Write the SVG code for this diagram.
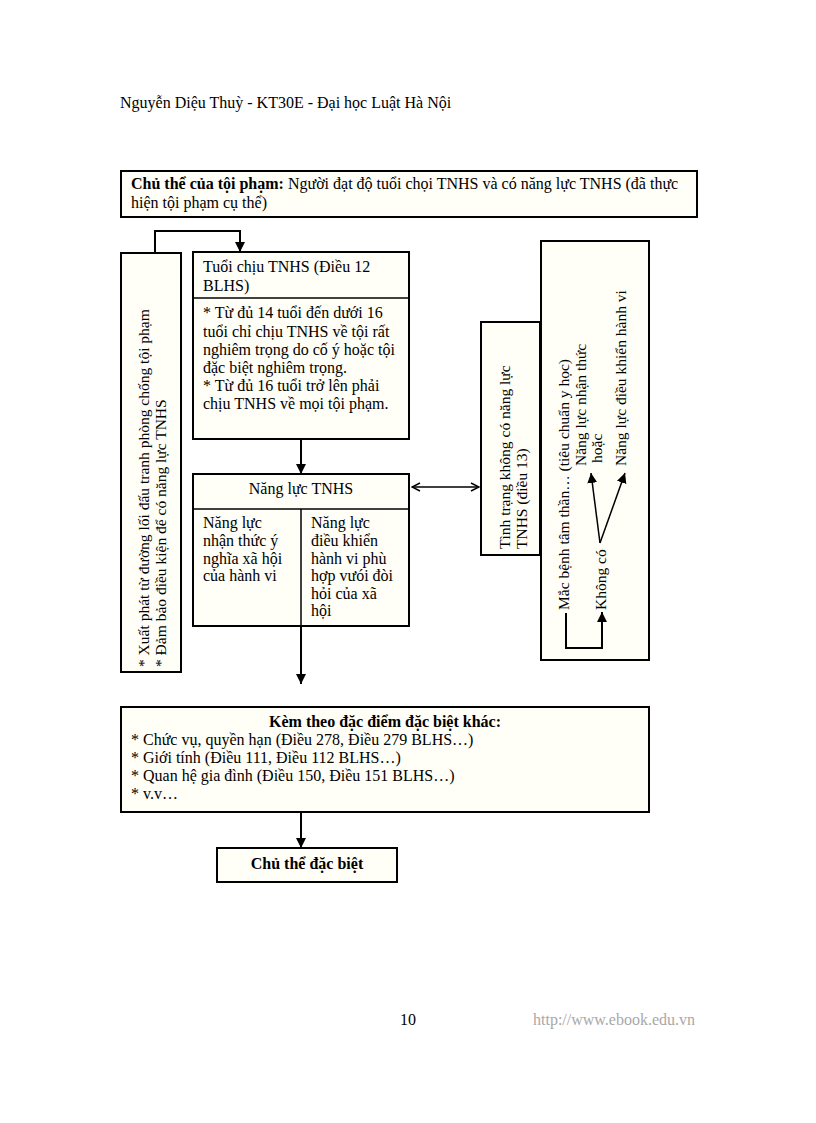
<svg xmlns="http://www.w3.org/2000/svg" width="816" height="1123" viewBox="0 0 816 1123">
<defs>
<style>
text{font-family:"Liberation Serif","Times New Roman",serif;font-size:16px;fill:#000}
.b{font-weight:bold}
.r{font-size:15.5px}
.box{fill:#fffef7;stroke:#000;stroke-width:2}
.ln{fill:none;stroke:#000;stroke-width:2}
.thin{fill:none;stroke:#000;stroke-width:1.5}
</style>
<marker id="ah" viewBox="0 0 10 10" refX="10" refY="5" markerWidth="10" markerHeight="10" markerUnits="userSpaceOnUse" orient="auto">
<path d="M0,0 L10,5 L0,10 z" fill="#000"/>
</marker>
<marker id="oa" viewBox="0 0 10 10" refX="9" refY="5" markerWidth="10" markerHeight="10" markerUnits="userSpaceOnUse" orient="auto-start-reverse">
<path d="M1,1 L9,5 L1,9" fill="none" stroke="#000" stroke-width="1.5"/>
</marker>
</defs>
<rect width="816" height="1123" fill="#fff"/>

<g id="header">
<text x="120" y="108">Nguyễn Diệu Thuỳ - KT30E - Đại học Luật Hà Nội</text>
</g>

<g id="chu-the">
<rect class="box" x="121" y="171" width="576" height="46" stroke-width="2.5"/>
<text x="131" y="189"><tspan class="b">Chủ thể của tội phạm:</tspan> Người đạt độ tuổi chọi TNHS và có năng lực TNHS (đã thực</text>
<text x="131" y="208">hiện tội phạm cụ thể)</text>
</g>

<g id="left-note">
<rect class="box" x="121" y="253" width="60" height="419"/>
<text class="r" transform="translate(149,667) rotate(-90)">* Xuất phát từ đường lối đấu tranh phòng chống tội phạm</text>
<text class="r" transform="translate(166,667) rotate(-90)">* Đảm bảo điều kiện để có năng lực TNHS</text>
</g>

<g id="tuoi">
<rect class="box" x="193" y="252" width="216" height="187"/>
<line class="thin" x1="193" y1="298" x2="409" y2="298"/>
<text x="203" y="272">Tuổi chịu TNHS (Điều 12</text>
<text x="203" y="291">BLHS)</text>
<text x="203" y="318">* Từ đủ 14 tuổi đến dưới 16</text>
<text x="203" y="337">tuổi chỉ chịu TNHS về tội rất</text>
<text x="203" y="355">nghiêm trọng do cố ý hoặc tội</text>
<text x="203" y="373">đặc biệt nghiêm trọng.</text>
<text x="203" y="391">* Từ đủ 16 tuổi trở lên phải</text>
<text x="203" y="409">chịu TNHS về mọi tội phạm.</text>
</g>

<g id="nang-luc">
<rect class="box" x="193" y="474" width="216" height="152"/>
<line class="thin" x1="193" y1="509" x2="409" y2="509"/>
<line class="thin" x1="301" y1="509" x2="301" y2="626"/>
<text x="301" y="494" text-anchor="middle">Năng lực TNHS</text>
<text x="203" y="528">Năng lực</text>
<text x="203" y="546">nhận thức ý</text>
<text x="203" y="564">nghĩa xã hội</text>
<text x="203" y="581">của hành vi</text>
<text x="311" y="528">Năng lực</text>
<text x="311" y="546">điều khiển</text>
<text x="311" y="564">hành vi phù</text>
<text x="311" y="581">hợp vưói đòi</text>
<text x="311" y="599">hỏi của xã</text>
<text x="311" y="616">hội</text>
</g>

<g id="tinh-trang">
<rect class="box" x="481" y="322" width="59" height="233"/>
<text class="r" transform="translate(510,549) rotate(-90)">Tình trạng không có năng lực</text>
<text class="r" transform="translate(527,549) rotate(-90)">TNHS (điều 13)</text>
</g>

<g id="benh">
<rect class="box" x="541" y="241" width="108" height="419"/>
<text class="r" transform="translate(569,610) rotate(-90)">Mắc bệnh tâm thần… (tiêu chuẩn y học)</text>
<text class="r" transform="translate(586,466) rotate(-90)">Năng lực nhận thức</text>
<text class="r" transform="translate(602,463) rotate(-90)">hoặc</text>
<text class="r" transform="translate(626,466) rotate(-90)">Năng lực điều khiển hành vi</text>
<text class="r" transform="translate(606,610) rotate(-90)">Không có</text>
</g>

<g id="kem-theo">
<rect class="box" x="121" y="707" width="528" height="105"/>
<text class="b" x="385" y="727" text-anchor="middle">Kèm theo đặc điểm đặc biệt khác:</text>
<text x="131" y="745">* Chức vụ, quyền hạn (Điều 278, Điều 279 BLHS…)</text>
<text x="131" y="763">* Giới tính (Điều 111, Điều 112 BLHS…)</text>
<text x="131" y="781">* Quan hệ gia đình (Điều 150, Điều 151 BLHS…)</text>
<text x="131" y="799">* v.v…</text>
</g>

<g id="dac-biet">
<rect class="box" x="217" y="848" width="180" height="34"/>
<text class="b" x="307" y="869" text-anchor="middle">Chủ thể đặc biệt</text>
</g>

<g id="connectors">
<path class="ln" d="M155,253 V231 H240 V252" marker-end="url(#ah)"/>
<path class="ln" d="M301,439 V474" marker-end="url(#ah)"/>
<path class="thin" d="M412,487 H479" marker-start="url(#oa)" marker-end="url(#oa)"/>
<path class="ln" d="M301,626 V684" marker-end="url(#ah)"/>
<path class="ln" d="M301,812 V848" marker-end="url(#ah)"/>
<path class="ln" d="M566,613 V648 H602 V612" marker-end="url(#ah)"/>
<path class="thin" d="M600,543 L591,473" marker-end="url(#ah)"/>
<path class="thin" d="M600,543 L625,473" marker-end="url(#ah)"/>
</g>

<g id="footer">
<text x="400" y="1025">10</text>
<text x="533" y="1025" style="fill:#a8a8a8">http://www.ebook.edu.vn</text>
</g>
</svg>
